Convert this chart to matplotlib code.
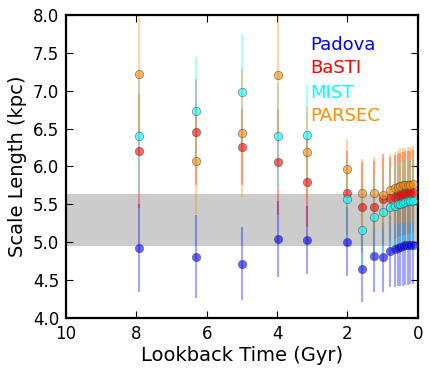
import matplotlib
matplotlib.use("Agg")
import matplotlib.pyplot as plt
import numpy as np

lookback = [7.94, 6.31, 5.01, 3.98, 3.16, 2.0, 1.58, 1.26, 1.0, 0.79, 0.65, 0.57, 0.5, 0.43, 0.36, 0.29, 0.22, 0.15]

padova = [4.92, 4.81, 4.72, 5.04, 5.03, 5.01, 4.65, 4.82, 4.80, 4.88, 4.91, 4.93, 4.94, 4.95, 4.96, 4.96, 4.97, 4.97]
padova_err = [0.58, 0.55, 0.48, 0.50, 0.45, 0.45, 0.44, 0.47, 0.45, 0.47, 0.50, 0.50, 0.52, 0.52, 0.52, 0.52, 0.52, 0.52]

basti = [6.20, 6.46, 6.26, 6.06, 5.80, 5.65, 5.46, 5.47, 5.57, 5.58, 5.60, 5.62, 5.63, 5.64, 5.65, 5.66, 5.66, 5.67]
basti_err = [0.75, 0.70, 0.50, 0.70, 0.60, 0.55, 0.60, 0.60, 0.60, 0.55, 0.55, 0.55, 0.55, 0.55, 0.55, 0.55, 0.55, 0.55]

mist = [6.40, 6.73, 6.98, 6.40, 6.42, 5.57, 5.16, 5.34, 5.40, 5.46, 5.48, 5.50, 5.51, 5.52, 5.53, 5.54, 5.54, 5.55]
mist_err = [0.75, 0.72, 0.75, 0.70, 0.66, 0.55, 0.55, 0.55, 0.55, 0.55, 0.55, 0.55, 0.55, 0.55, 0.55, 0.55, 0.55, 0.55]

parsec = [7.22, 6.07, 6.44, 7.21, 6.19, 5.97, 5.65, 5.65, 5.63, 5.69, 5.71, 5.73, 5.74, 5.75, 5.75, 5.76, 5.76, 5.77]
parsec_err = [0.85, 0.70, 0.84, 0.80, 0.60, 0.39, 0.45, 0.47, 0.47, 0.48, 0.48, 0.48, 0.50, 0.50, 0.50, 0.50, 0.50, 0.50]

band = (4.95, 5.64)

series = [
    ("Padova", padova, padova_err, "blue"),
    ("BaSTI", basti, basti_err, "red"),
    ("MIST", mist, mist_err, "cyan"),
    ("PARSEC", parsec, parsec_err, "darkorange"),
]

fig = plt.figure(figsize=(4.29, 3.81), dpi=100)
ax = fig.add_axes([0.154, 0.165, 0.82, 0.796])

ax.axhspan(band[0], band[1], facecolor="0.8", edgecolor="none", zorder=0)

for name, vals, errs, c in series:
    ax.errorbar(lookback, vals, yerr=errs, fmt="none", ecolor=c, elinewidth=1.5,
                alpha=0.35, capsize=0, zorder=2)
for name, vals, errs, c in series:
    ax.plot(lookback, vals, "o", color=c, alpha=0.6, markersize=6,
            markeredgecolor="0.3", markeredgewidth=0.6, zorder=3)

ty = [7.60, 7.30, 6.97, 6.67]
for (name, vals, errs, c), y in zip(series, ty):
    ax.text(3.05, y, name, color=c, fontsize=13, va="center", ha="left")

ax.set_xlim(10, 0)
ax.set_ylim(4.0, 8.0)
ax.set_xticks([10, 8, 6, 4, 2, 0])
ax.set_yticks(np.arange(4.0, 8.01, 0.5))
ax.set_yticklabels([f"{v:.1f}" for v in np.arange(4.0, 8.01, 0.5)])
ax.tick_params(direction="in", top=True, right=True, labelsize=12, length=5, width=0.8, pad=5)
for s in ax.spines.values():
    s.set_linewidth(1.6)
ax.set_xlabel("Lookback Time (Gyr)", fontsize=14, labelpad=2)
ax.set_ylabel("Scale Length (kpc)", fontsize=14, labelpad=4)

fig.savefig("out.png", dpi=100)
